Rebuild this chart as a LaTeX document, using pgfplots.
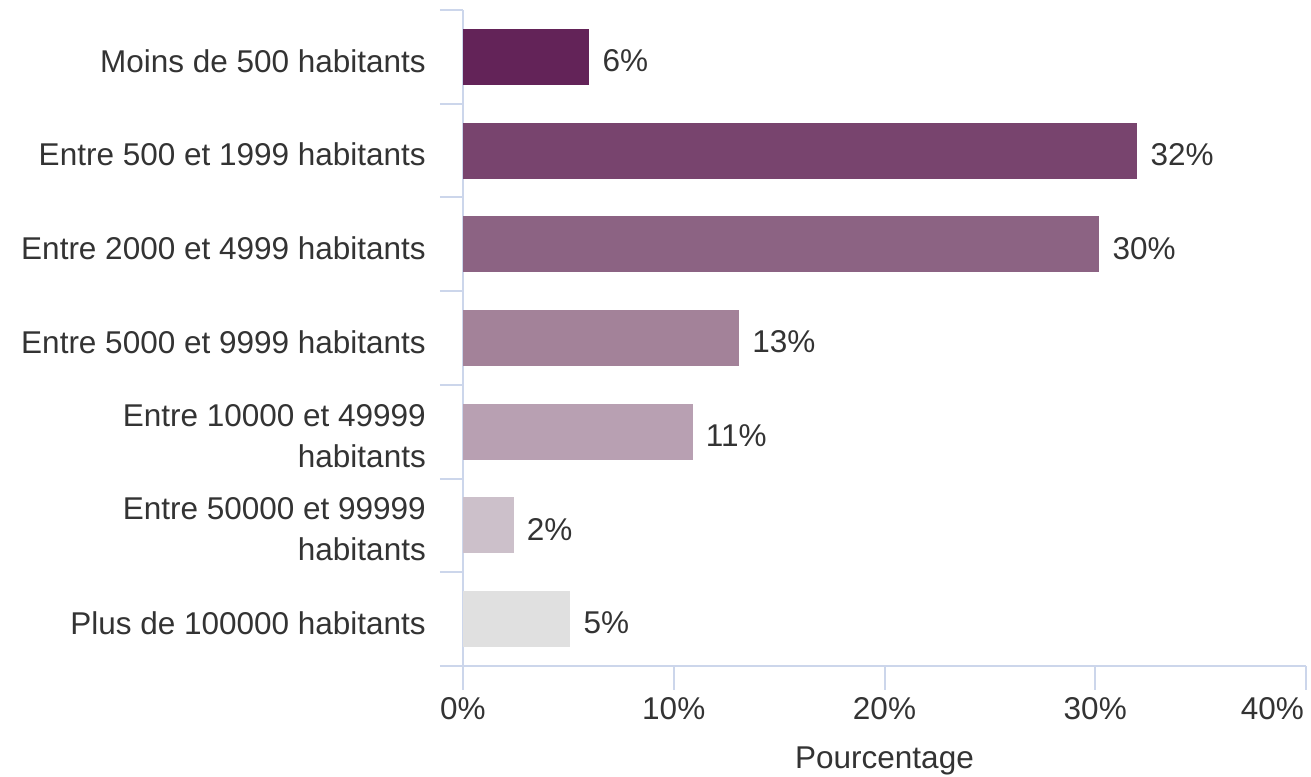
\documentclass[border=0pt]{standalone}
\usepackage{fontspec}
\setmainfont{Liberation Sans}
\usepackage{pgfplots}
\pgfplotsset{compat=1.18}
\definecolor{axisc}{HTML}{CCD6EB}
\definecolor{txt}{HTML}{333333}
\definecolor{c1}{HTML}{632358}
\definecolor{c2}{HTML}{78446E}
\definecolor{c3}{HTML}{8C6383}
\definecolor{c4}{HTML}{A38299}
\definecolor{c5}{HTML}{B8A0B2}
\definecolor{c6}{HTML}{CCC0CA}
\definecolor{c7}{HTML}{E0E0E0}
\newcommand{\lf}{\fontsize{31.5}{41}\selectfont}
\begin{document}
\begin{tikzpicture}
\begin{axis}[
  at={(0pt,0pt)}, anchor=south west,
  scale only axis, width=843pt, height=656pt,
  xbar, bar width=56pt, bar shift=0pt,
  xmin=0, xmax=40, ymin=-0.5, ymax=6.5,
  xtick={0,10,20,30},
  extra x ticks={40},
  extra x tick style={xticklabel style={anchor=north east, xshift=-2pt}},
  xticklabel={\pgfmathprintnumber{\tick}\%},
  ytick={0,1,2,3,4,5,6},
  yticklabels={Plus de 100000 habitants,
    {Entre 50000 et 99999\\habitants},
    {Entre 10000 et 49999\\habitants},
    Entre 5000 et 9999 habitants,
    Entre 2000 et 4999 habitants,
    Entre 500 et 1999 habitants,
    Moins de 500 habitants},
  minor ytick={-0.5,0.5,1.5,2.5,3.5,4.5,5.5,6.5},
  axis x line*=bottom, axis y line*=left,
  axis line style={axisc, line width=2pt},
  tick align=outside,
  major tick length=24pt, minor tick length=23pt,
  tick style={axisc, line width=2pt},
  every major y tick/.append style={draw=none},
  /pgf/number format/assume math mode=true,
  ticklabel style={font=\lf, text=txt},
  yticklabel style={align=right, inner sep=0pt, xshift=-13pt, yshift=-4pt},
  xticklabel style={inner sep=0pt, yshift=-7pt},
  xlabel={Pourcentage},
  xlabel style={font=\lf, text=txt, at={(axis description cs:0.5,0)}, anchor=base, yshift=-102pt},
  point meta=x,
  nodes near coords={\pgfmathprintnumber[fixed,precision=0]{\pgfplotspointmeta}\%},
  nodes near coords style={anchor=west, font=\lf, text=txt, inner sep=0pt, xshift=13pt, yshift=-4pt},
  clip=false,
]
\addplot[fill=c1, draw=none] coordinates {(6.0,6)};
\addplot[fill=c2, draw=none] coordinates {(32.0,5)};
\addplot[fill=c3, draw=none] coordinates {(30.2,4)};
\addplot[fill=c4, draw=none] coordinates {(13.1,3)};
\addplot[fill=c5, draw=none] coordinates {(10.9,2)};
\addplot[fill=c6, draw=none] coordinates {(2.4,1)};
\addplot[fill=c7, draw=none] coordinates {(5.1,0)};
\end{axis}
\pgfresetboundingbox
\path[use as bounding box] (-463pt,-110pt) rectangle (848pt,666pt);
\end{tikzpicture}
\end{document}
